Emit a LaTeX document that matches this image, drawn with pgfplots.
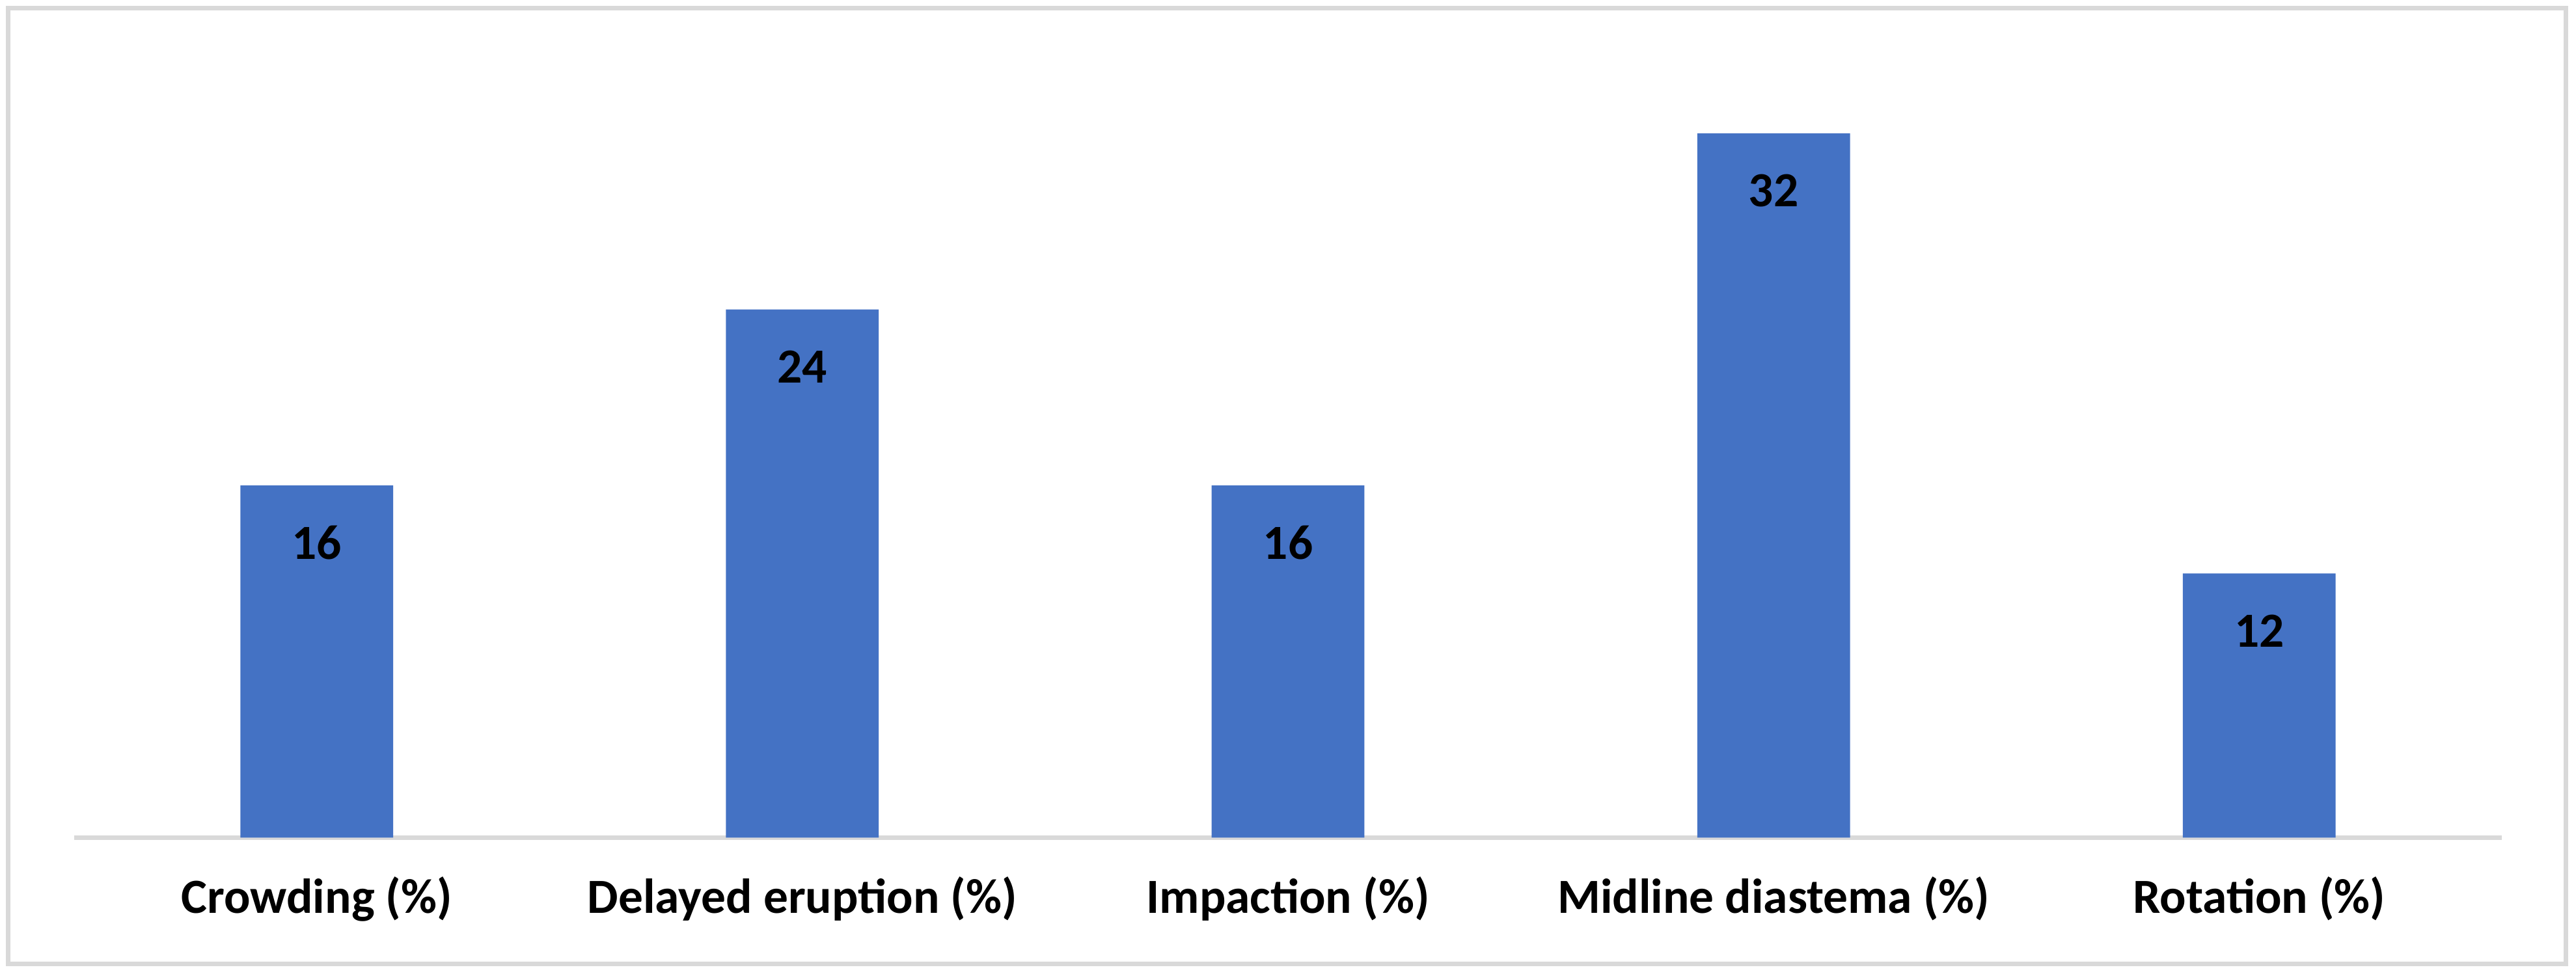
\documentclass[border=0pt]{standalone}
\usepackage{pgfplots}
\pgfplotsset{compat=1.18}
\usepackage{fontspec}
\setmainfont{Carlito}
\definecolor{barblue}{HTML}{4472C4}
\definecolor{lgray}{HTML}{D9D9D9}
\begin{document}
\begin{tikzpicture}
\path[use as bounding box] (-4.5mm,-8.3mm) rectangle (152.3mm,51.0mm);
\draw[lgray, line width=0.8pt] (-4.0mm,-7.7mm) rectangle (151.7mm,50.5mm);
\begin{axis}[
  at={(0,0)}, anchor=south west,
  scale only axis,
  width=147.8mm, height=46.9mm,
  xmin=-0.5, xmax=4.5, ymin=0, ymax=35,
  axis x line*=bottom, axis y line=none,
  x axis line style={lgray, line width=0.85pt, -},
  xtick=data,
  xticklabels={Crowding (\%), Delayed eruption (\%), Impaction (\%), Midline diastema (\%), Rotation (\%)},
  major tick length=0pt,
  xticklabel style={font=\fontsize{8.5}{10}\selectfont\bfseries, anchor=base, yshift=-4.6mm},
  ybar, bar width=9.3mm,
  nodes near coords,
  point meta=y,
  /pgf/number format/assume math mode=true,
  nodes near coords style={font=\fontsize{8.5}{10}\selectfont\bfseries, anchor=center, yshift=-3.5mm, text=black},
  clip=false,
]
\addplot[fill=barblue, draw=none] coordinates {(0,16) (1,24) (2,16) (3,32) (4,12)};
\end{axis}
\end{tikzpicture}
\end{document}
